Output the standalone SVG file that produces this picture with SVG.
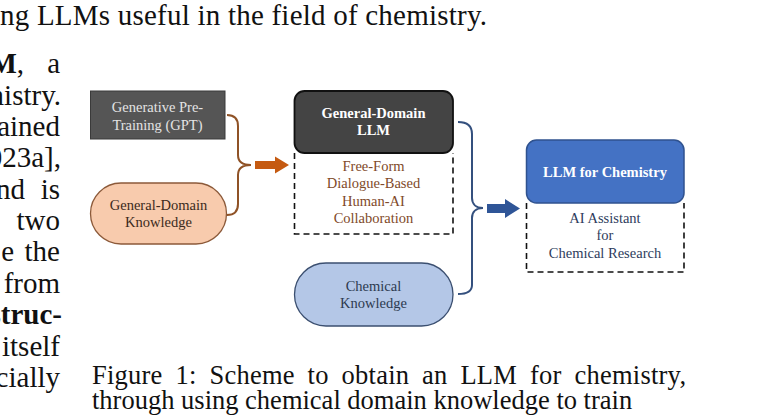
<svg xmlns="http://www.w3.org/2000/svg" width="775" height="417" viewBox="0 0 775 417">
<defs>
<style>
.body{font-family:"Liberation Serif","Times New Roman",serif;font-size:29px;fill:#111}
.cap{font-family:"Liberation Serif","Times New Roman",serif;font-size:26.5px;fill:#111}
.n{font-family:"Liberation Serif","Times New Roman",serif;font-size:14.5px;text-anchor:middle}
.b{font-weight:bold;fill:#fff}
.dash{fill:none;stroke:#111;stroke-width:1.6;stroke-dasharray:6 4}
.obr{fill:none;stroke:#8f5226;stroke-width:2}
.bbr{fill:none;stroke:#34507e;stroke-width:2}
</style>
</defs>
<rect width="775" height="417" fill="#fff"/>
<!-- surrounding page text -->
<text class="body" x="0" y="25" textLength="487" lengthAdjust="spacing">ng LLMs useful in the field of chemistry.</text>
<g class="body" text-anchor="end">
<text x="24" y="73"><tspan font-weight="bold">M</tspan>,</text>
<text x="60" y="73">a</text>
<text x="61" y="104.5">mistry.</text>
<text x="60" y="136">ained</text>
<text x="61" y="167">023a],</text>
<text x="25" y="198.5">nd</text>
<text x="60" y="198.5">is</text>
<text x="60" y="230">two</text>
<text x="14" y="261">e</text>
<text x="60" y="261">the</text>
<text x="60" y="293">from</text>
<text x="62" y="324" font-weight="bold">struc-</text>
<text x="60" y="356">itself</text>
<text x="60" y="387">cially</text>
</g>
<text class="cap" x="92" y="384" textLength="594" lengthAdjust="spacing" word-spacing="6">Figure 1: Scheme to obtain an LLM for chemistry,</text>
<text class="cap" x="92" y="409">through using chemical domain knowledge to train</text>

<!-- connectors -->
<g id="connectors">
<path class="obr" d="M227,115 C235,115 238,119 238,126 L238,155 C238,161 242,165 251,165 M251,165 C242,165 238,169 238,175 L238,204 C238,211 235,215 227,215"/>
<polygon points="255,161 275,161 275,156.5 289,165 275,173.5 275,169 255,169" fill="#c55a11"/>
<path class="bbr" d="M458,122 C467,122 472,126 472,134 L472,198 C472,204 476,208 483,208 M483,208 C476,208 472,212 472,218 L472,285 C472,291 467,294 458,294"/>
<polygon points="487,204 505,204 505,199 520,208.5 505,218 505,213 487,213" fill="#2f5597"/>
</g>

<g id="gpt">
<rect x="90.5" y="91" width="134.5" height="48" fill="#555" stroke="#3a3a3a" stroke-width="1"/>
<text class="n" x="157.5" y="112" fill="#e4e4e4">Generative Pre-</text>
<text class="n" x="157.5" y="130" fill="#e4e4e4">Training (GPT)</text>
</g>

<g id="general-knowledge">
<rect x="90.5" y="183" width="136" height="61" rx="30.5" fill="#f8cbad" stroke="#8c5a3a" stroke-width="1.3"/>
<text class="n" x="158.5" y="210" fill="#3b2a20">General-Domain</text>
<text class="n" x="158.5" y="227" fill="#3b2a20">Knowledge</text>
</g>

<g id="general-llm">
<path class="dash" d="M294.5,153 V234 H453 V153"/>
<rect x="294.5" y="91" width="158.5" height="62" rx="10" fill="#444" stroke="#111" stroke-width="1.8"/>
<text class="n b" x="373.5" y="118">General-Domain</text>
<text class="n b" x="373.5" y="135">LLM</text>
<g fill="#7f4a2a">
<text class="n" x="373.5" y="171">Free-Form</text>
<text class="n" x="373.5" y="188">Dialogue-Based</text>
<text class="n" x="373.5" y="206">Human-AI</text>
<text class="n" x="373.5" y="223">Collaboration</text>
</g>
</g>

<g id="chemical-knowledge">
<rect x="294.5" y="263" width="158.5" height="63" rx="31.5" fill="#b4c7e7" stroke="#3b4f70" stroke-width="1.3"/>
<text class="n" x="373.5" y="291" fill="#2d3a50">Chemical</text>
<text class="n" x="373.5" y="308" fill="#2d3a50">Knowledge</text>
</g>

<g id="llm-chemistry">
<path class="dash" d="M526.5,203 V272 H684 V203"/>
<rect x="526.5" y="140" width="157.5" height="63" rx="10" fill="#4472c4" stroke="#2f528f" stroke-width="1.5"/>
<text class="n b" x="605" y="177">LLM for Chemistry</text>
<g fill="#2e3c5c">
<text class="n" x="605" y="223">AI Assistant</text>
<text class="n" x="605" y="240">for</text>
<text class="n" x="605" y="258">Chemical Research</text>
</g>
</g>
</svg>
